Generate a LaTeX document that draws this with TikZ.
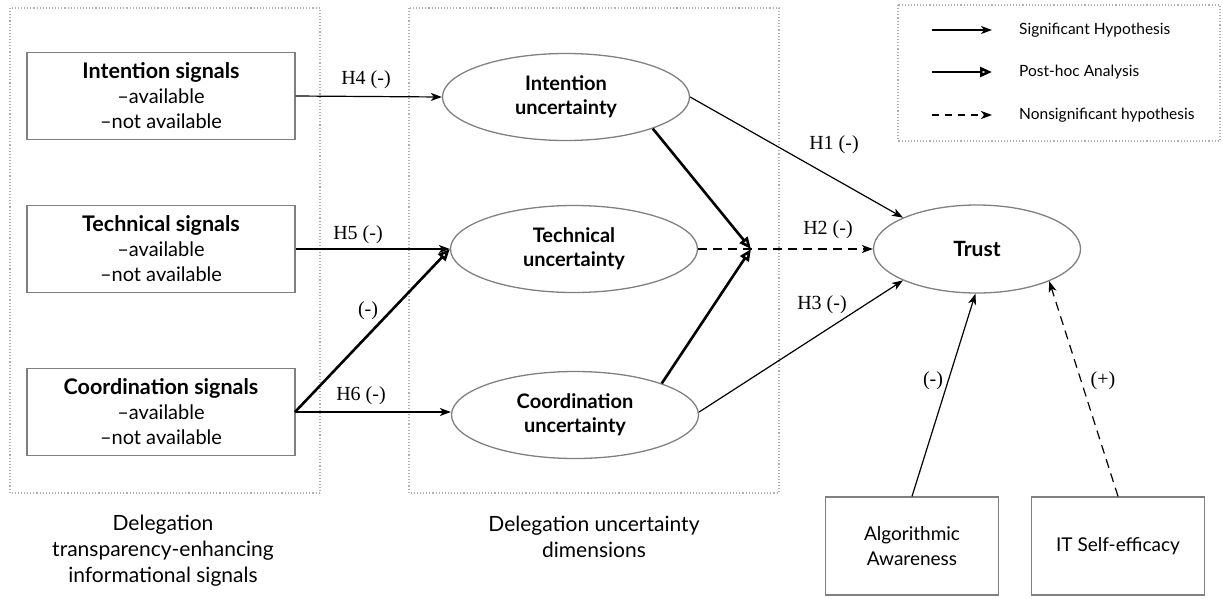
\documentclass[tikz,border=0pt]{standalone}
\usepackage{fontspec}
\setmainfont{Lato}
\newfontfamily\hfont{Liberation Serif}
\usetikzlibrary{arrows.meta,shapes.geometric}
\definecolor{bordergray}{HTML}{808080}
\definecolor{dotgray}{HTML}{B0B0B0}
\tikzset{
  sigbox/.style={draw=bordergray, line width=1.3pt, minimum width=268pt, minimum height=87pt, align=center, font=\fontsize{20}{25}\selectfont, inner sep=0pt},
  modbox/.style={draw=bordergray, line width=1.3pt, minimum width=173pt, minimum height=98pt, align=center, font=\fontsize{19}{25}\selectfont, inner sep=0pt},
  unc/.style={ellipse, draw=bordergray, line width=1.3pt, minimum width=247pt, minimum height=87pt, align=center, font=\bfseries\fontsize{20}{24}\selectfont, inner sep=0pt},
  groupbox/.style={draw=dotgray, line width=1.1pt, dotted},
  sig/.style={line width=1.2pt, -{Stealth[length=11pt,width=8pt,inset=3pt]}},
  nsig/.style={line width=1.2pt, dash pattern=on 9pt off 6pt, -{Stealth[length=11pt,width=8pt,inset=3pt]}},
  post/.style={line width=2.6pt, -{Triangle[open,length=12pt,width=10pt]}},
  hlab/.style={font=\hfont\fontsize{20}{24}\selectfont, inner sep=1pt},
  grouplab/.style={align=center, font=\fontsize{21}{26}\selectfont},
  legtext/.style={anchor=west, font=\fontsize{15.5}{18}\selectfont, inner sep=0pt},
}
\newcommand{\boxtitle}[1]{\textbf{\fontsize{21.5}{25}\selectfont #1}}
\begin{document}
\begin{tikzpicture}[x=1pt,y=-1pt]
\useasboundingbox (0,0) rectangle (1223,598);
% group boxes
\draw[groupbox] (10,8) rectangle (320,493);
\draw[groupbox] (409,8) rectangle (779,493);
\draw[groupbox] (898,5) rectangle (1220,141);
% legend
\coordinate (l1a) at (932,30); \coordinate (l1b) at (992,30);
\coordinate (l2a) at (932,72); \coordinate (l2b) at (992,72);
\coordinate (l3a) at (932,115); \coordinate (l3b) at (992,115);
\draw[sig] (l1a) -- (l1b);
\draw[post] (l2a) -- (l2b);
\draw[nsig, line width=2.4pt, dash pattern=on 7pt off 6pt] (l3a) -- (l3b);
\node[legtext] (lt1) at (1019,30) {Significant Hypothesis};
\node[legtext] (lt2) at (1019,72) {Post-hoc Analysis};
\node[legtext] (lt3) at (1019,115) {Nonsignificant hypothesis};
% signal boxes
\node[sigbox] (is) at (161,96) {\boxtitle{Intention signals}\\--available\\--not available};
\node[sigbox] (ts) at (161,249) {\boxtitle{Technical signals}\\--available\\--not available};
\node[sigbox] (cs) at (161,412) {\boxtitle{Coordination signals}\\--available\\--not available};
% uncertainty ellipses
\node[unc] (iu) at (566,97) {Intention\\uncertainty};
\node[unc] (tu) at (574,249) {Technical\\uncertainty};
\node[unc] (cu) at (575,415) {Coordination\\uncertainty};
\node[unc, minimum width=207pt, minimum height=88pt, font=\bfseries\fontsize{21}{24}\selectfont] (tr) at (977,249) {Trust};
% moderators
\node[modbox] (aa) at (912,546) {Algorithmic\\Awareness};
\node[modbox] (se) at (1118,546) {IT Self-efficacy};
% group labels
\node[grouplab] (g1) at (163,551) {Delegation\\transparency-enhancing\\informational signals};
\node[grouplab] (g2) at (594,537) {Delegation uncertainty\\dimensions};
% convergence point
\coordinate (cp) at (751,249);
\coordinate (csout) at (295,412);
% connectors
\draw[sig] (is.east) -- (iu.west);
\node[hlab] (h4) at (366,80) {H4 (-)};
\draw[sig] (ts.east) -- (tu.west);
\node[hlab] (h5) at (358,235) {H5 (-)};
\draw[sig] (csout) -- (cu.west |- csout);
\node[hlab] (h6) at (361,396) {H6 (-)};
\draw[post] (csout) -- (tu.west);
\node[hlab] (hp) at (368,311) {(-)};
\draw[post] (iu.-20) -- (cp);
\draw[post] (cu.20) -- (cp);
\draw[nsig] (tu.east) -- (tr.west);
\node[hlab] (h2) at (828,230) {H2 (-)};
\draw[sig] (iu.east) -- (tr.157);
\node[hlab] (h1) at (834,145) {H1 (-)};
\draw[sig] (cu.east |- csout) -- (tr.203);
\node[hlab] (h3) at (822,305) {H3 (-)};
\draw[sig] (aa.north) -- (tr.-92);
\node[hlab] (ha) at (933,381) {(-)};
\draw[nsig] (se.north) -- (tr.-24);
\node[hlab] (hs) at (1103,381) {(+)};
\end{tikzpicture}
\end{document}
